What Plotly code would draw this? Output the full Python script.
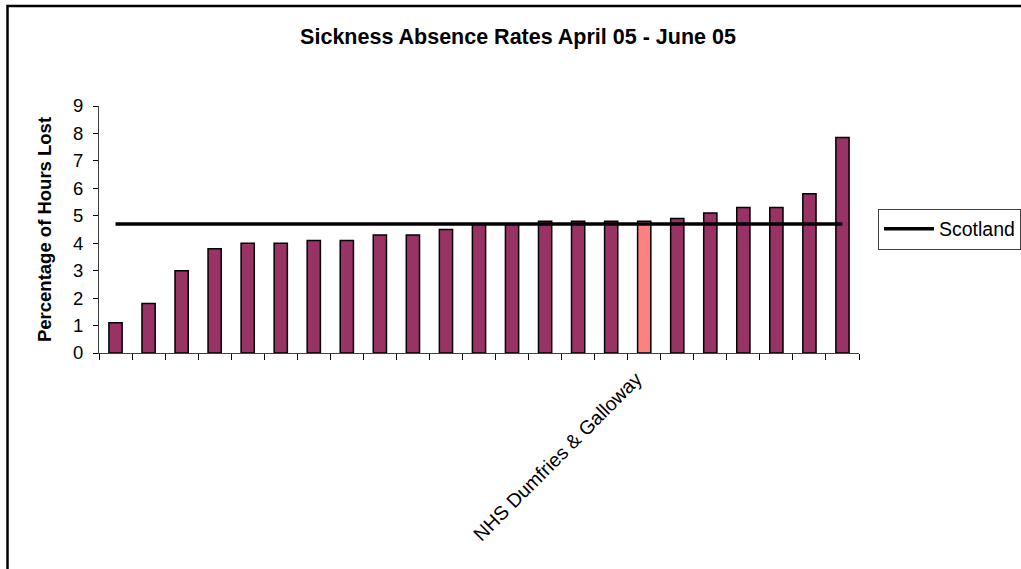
import plotly.graph_objects as go

# Sickness absence, April 05 - June 05, boards ranked from lowest to highest
rank = list(range(1, 24))
absence_pct = [1.1, 1.8, 3.0, 3.8, 4.0, 4.0, 4.1, 4.1, 4.3, 4.3, 4.5, 4.7,
               4.7, 4.8, 4.8, 4.8, 4.8, 4.9, 5.1, 5.3, 5.3, 5.8, 7.85]
highlight_rank = 17
highlight_label = "NHS Dumfries & Galloway"
scotland_pct = 4.7

y_ticks = list(range(0, 10))

W, H = 1021, 569
L, R, T, B = 99, 162, 106, 216
PW, PH = W - L - R, H - T - B


def px_x(px):
    return (px - L) / PW


def px_y(py):
    return (H - B - py) / PH


bar_colors = ["#FF8080" if r == highlight_rank else "#993366" for r in rank]

fig = go.Figure()
fig.add_trace(go.Bar(
    x=rank, y=absence_pct, width=0.4,
    marker=dict(color=bar_colors, line=dict(color="black", width=1.5)),
    showlegend=False, hoverinfo="y",
))
fig.add_trace(go.Scatter(
    x=rank, y=[scotland_pct] * len(rank), mode="lines",
    line=dict(color="black", width=3.5), name="Scotland",
))

font = "Liberation Sans, Arial, sans-serif"

fig.update_layout(
    width=W, height=H,
    margin=dict(l=L, r=R, t=T, b=B, autoexpand=False),
    paper_bgcolor="white", plot_bgcolor="white",
    font=dict(family=font, size=18.5, color="black"),
    title=dict(text="<b>Sickness Absence Rates April 05 - June 05</b>",
               x=518 / W, xref="container", xanchor="center",
               y=1 - 36 / H, yref="container", yanchor="middle",
               font=dict(size=21.5)),
    legend=dict(x=px_x(878), y=px_y(229), xanchor="left", yanchor="middle",
                bordercolor="#404040", borderwidth=1, bgcolor="white",
                font=dict(size=19.5), itemwidth=50),
    xaxis=dict(
        range=[0.5, 23.5], showgrid=False, zeroline=False,
        showline=True, linecolor="#404040", linewidth=1,
        tickmode="array", tickvals=[highlight_rank], ticktext=[highlight_label],
        ticks="", tickangle=-45, tickfont=dict(size=19.5),
        ticklabelshift=-8, ticklabelstandoff=6,
        minor=dict(tickmode="array", tickvals=[r - 0.5 for r in rank] + [rank[-1] + 0.5],
                   ticks="outside", ticklen=6, tickcolor="black", tickwidth=1,
                   showgrid=False),
    ),
    yaxis=dict(
        range=[0, 9], tickmode="array", tickvals=y_ticks,
        showgrid=False, zeroline=False,
        showline=True, linecolor="#404040", linewidth=1,
        ticks="outside", ticklen=5, tickcolor="black",
        tickfont=dict(size=18.5), ticklabelstandoff=6,
        title=dict(text="<b>Percentage of Hours Lost</b>", standoff=16,
                   font=dict(size=18.5)),
    ),
    shapes=[dict(type="rect", xref="paper", yref="paper",
                 x0=px_x(7.5), x1=px_x(1040), y0=px_y(600), y1=px_y(6),
                 line=dict(color="black", width=2.5), fillcolor="rgba(0,0,0,0)",
                 layer="above")],
)

fig.write_html("out.html")
